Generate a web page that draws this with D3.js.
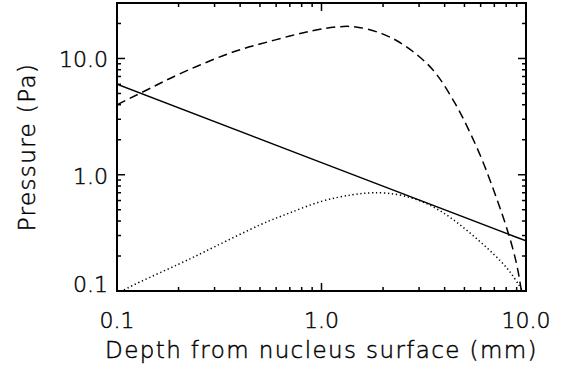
<!DOCTYPE html>
<html>
<head>
<meta charset="utf-8">
<script src="https://cdn.jsdelivr.net/npm/d3@7"></script>
<style>
  html, body { margin: 0; padding: 0; background: #fff; }
  svg { display: block; }
  text { font-family: "DejaVu Sans", sans-serif; fill: #000; stroke: #000; stroke-width: 0.45; font-weight: 300; }
</style>
</head>
<body>
<svg id="chart" width="570" height="372"></svg>
<script>
// Depth (mm) samples
const solidDepth = [0.1, 1.0, 10.0];
const solidPressure = [6.0, 1.27, 0.27];

const dashedDepth = [0.1, 0.15, 0.2, 0.3, 0.4, 0.5, 0.7, 0.85, 1.0, 1.2, 1.5, 2.0, 2.5, 3.0, 3.5, 4.0, 4.5, 5.0, 6.0, 7.0, 8.0, 9.0, 9.5, 9.8];
const dashedPressure = [4.0, 5.7, 7.3, 9.9, 11.9, 13.3, 15.6, 16.9, 17.9, 18.7, 18.6, 16.2, 13.2, 10.4, 8.0, 5.8, 4.1, 2.9, 1.44, 0.71, 0.36, 0.17, 0.1, 0.085];

const dottedDepth = [0.1, 0.13, 0.2, 0.3, 0.5, 0.7, 1.0, 1.4, 1.8, 2.5, 3.8, 5.9, 8.0, 9.3, 10.0];
const dottedPressure = [0.095, 0.12, 0.17, 0.24, 0.37, 0.47, 0.59, 0.67, 0.70, 0.66, 0.49, 0.27, 0.16, 0.11, 0.09];

const xTickValues = [0.1, 1.0, 10.0];
const xTickLabels = ["0.1", "1.0", "10.0"];
const yTickValues = [0.1, 1.0, 10.0];
const yTickLabels = ["0.1", "1.0", "10.0"];
const xMinor = [0.2, 0.3, 0.4, 0.5, 0.6, 0.7, 0.8, 0.9, 2, 3, 4, 5, 6, 7, 8, 9];
const yMinor = [0.2, 0.3, 0.4, 0.5, 0.6, 0.7, 0.8, 0.9, 2, 3, 4, 5, 6, 7, 8, 9, 20];

const xTitle = "Depth from nucleus surface (mm)";
const yTitle = "Pressure (Pa)";

const margin = { left: 117, right: 44, top: 3, bottom: 81 };
const W = 570, H = 372;
const x0 = margin.left, x1 = W - margin.right;
const y0 = margin.top, y1 = H - margin.bottom;

const svg = d3.select("#chart");

const x = d3.scaleLog().domain([0.1, 10]).range([x0, x1]);
const y = d3.scaleLog().domain([0.1, 30]).range([y1, y0]);

svg.append("defs").append("clipPath").attr("id", "plot-clip")
  .append("rect").attr("x", x0).attr("y", y0).attr("width", x1 - x0).attr("height", y1 - y0);

// curves
const line = d3.line()
  .x((d) => x(d[0]))
  .y((d) => y(d[1]))
  .curve(d3.curveNatural);

const series = [
  { xs: solidDepth, ys: solidPressure, dash: null },
  { xs: dashedDepth, ys: dashedPressure, dash: "9,5" },
  { xs: dottedDepth, ys: dottedPressure, dash: "1.3,2.7" },
];

const curves = svg.append("g").attr("clip-path", "url(#plot-clip)");
series.forEach((s) => {
  curves.append("path")
    .datum(d3.zip(s.xs, s.ys))
    .attr("d", line)
    .attr("fill", "none")
    .attr("stroke", "#000")
    .attr("stroke-width", 1.5)
    .attr("stroke-dasharray", s.dash);
});

// frame + inward ticks on all four sides (IDL style)
const frame = svg.append("g").attr("stroke", "#000");
const majorLen = 8, minorLen = 4;

function xTicks(vals, len) {
  vals.forEach((v) => {
    const px = x(v);
    frame.append("line").attr("x1", px).attr("x2", px).attr("y1", y1).attr("y2", y1 - len).attr("stroke-width", 1.5);
    frame.append("line").attr("x1", px).attr("x2", px).attr("y1", y0).attr("y2", y0 + len).attr("stroke-width", 1.5);
  });
}
function yTicks(vals, len) {
  vals.forEach((v) => {
    const py = y(v);
    frame.append("line").attr("x1", x0).attr("x2", x0 + len).attr("y1", py).attr("y2", py).attr("stroke-width", 1.5);
    frame.append("line").attr("x1", x1).attr("x2", x1 - len).attr("y1", py).attr("y2", py).attr("stroke-width", 1.5);
  });
}
xTicks(xTickValues, majorLen);
xTicks(xMinor, minorLen);
yTicks(yTickValues, majorLen);
yTicks(yMinor, minorLen);

frame.append("rect")
  .attr("x", x0).attr("y", y0)
  .attr("width", x1 - x0).attr("height", y1 - y0)
  .attr("fill", "none")
  .attr("stroke-width", 2);

// tick labels
const fs = 22;
svg.append("g").selectAll("text")
  .data(xTickValues)
  .join("text")
  .attr("x", (d) => x(d))
  .attr("y", y1 + 37)
  .attr("text-anchor", "middle")
  .attr("font-size", fs)
  .text((d, i) => xTickLabels[i]);

svg.append("g").selectAll("text")
  .data(yTickValues)
  .join("text")
  .attr("x", x0 - 9)
  .attr("y", (d) => Math.min(y(d) + 9, y1 + 1))
  .attr("text-anchor", "end")
  .attr("font-size", fs)
  .text((d, i) => yTickLabels[i]);

// axis titles
svg.append("text")
  .attr("x", (x0 + x1) / 2)
  .attr("y", y1 + 67)
  .attr("text-anchor", "middle")
  .attr("font-size", 23)
  .attr("letter-spacing", 1.4)
  .text(xTitle);

svg.append("text")
  .attr("transform", `translate(35,${(y0 + y1) / 2}) rotate(-90)`)
  .attr("text-anchor", "middle")
  .attr("font-size", 23)
  .attr("letter-spacing", 1.4)
  .text(yTitle);
</script>
</body>
</html>
